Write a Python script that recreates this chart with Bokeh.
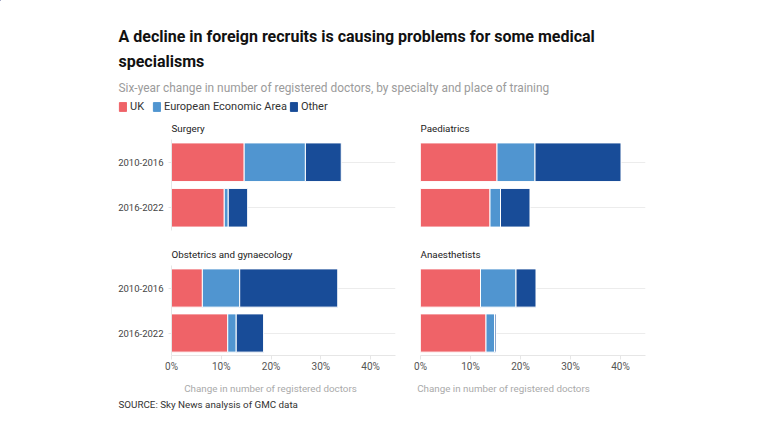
from bokeh.plotting import figure
from bokeh.models import (Range1d, FactorRange, FixedTicker, PrintfTickFormatter,
                          Label, Legend, LegendItem, ColumnDataSource)
from bokeh.layouts import column, row
from bokeh.embed import file_html
from bokeh.resources import INLINE

# ---- data ----
periods = ["2010-2016", "2016-2022"]
series = ["UK", "European Economic Area", "Other"]
colors = ["#EF6368", "#5095D0", "#184C98"]

surgery_uk = [14.6, 10.6]
surgery_eea = [12.3, 0.8]
surgery_other = [7.2, 3.9]

paed_uk = [15.3, 13.9]
paed_eea = [7.6, 2.1]
paed_other = [17.2, 5.9]

obs_uk = [6.2, 11.3]
obs_eea = [7.5, 1.7]
obs_other = [19.7, 5.5]

anaes_uk = [12.0, 13.1]
anaes_eea = [7.1, 1.7]
anaes_other = [4.0, 0.3]

x_ticks = [0, 10, 20, 30, 40]

title_line1 = "A decline in foreign recruits is causing problems for some medical"
title_line2 = "specialisms"
subtitle = "Six-year change in number of registered doctors, by specialty and place of training"
axis_title = "Change in number of registered doctors"
source_text = "SOURCE: Sky News analysis of GMC data"

FONT = "Roboto"
W = 760


def panel(name, uk, eea, other, width, height, b_left, b_right, b_top, b_bottom,
          show_y, show_x):
    src = ColumnDataSource(dict(period=periods, UK=uk, EEA=eea, Other=other))
    p = figure(width=width, height=height, output_backend="svg", toolbar_location=None,
               y_range=FactorRange(factors=periods[::-1], range_padding=0),
               x_range=Range1d(0, 45),
               min_border_left=b_left, min_border_right=b_right,
               min_border_top=b_top, min_border_bottom=b_bottom)
    p.hbar_stack(["UK", "EEA", "Other"], y="period", height=0.85, color=colors,
                 source=src, line_color="white", line_width=1)
    p.outline_line_color = None
    p.xgrid.grid_line_color = None
    p.ygrid.grid_line_color = "#ececec"
    p.ygrid.grid_line_width = 1
    p.ygrid.level = "underlay"

    p.title.text = name
    p.title.text_font = FONT
    p.title.text_font_size = "9.8px"
    p.title.text_font_style = "normal"
    p.title.text_color = "#222222"
    p.title.align = "left"
    p.title.standoff = 11

    yax = p.yaxis[0]
    yax.visible = show_y
    yax.axis_line_color = "#e6e6e6"
    yax.major_tick_line_color = "#e6e6e6"
    yax.major_tick_out = 3
    yax.major_tick_in = 0
    yax.major_label_text_font = FONT
    yax.major_label_text_font_size = "9.5px"
    yax.major_label_text_color = "#444444"
    yax.major_label_standoff = 5

    xax = p.xaxis[0]
    xax.visible = show_x
    xax.ticker = FixedTicker(ticks=x_ticks)
    xax.formatter = PrintfTickFormatter(format="%d%%")
    xax.axis_line_color = "#e6e6e6"
    xax.major_tick_line_color = "#e6e6e6"
    xax.major_tick_out = 4
    xax.major_tick_in = 0
    xax.minor_tick_line_color = None
    xax.major_label_text_font = FONT
    xax.major_label_text_font_size = "10px"
    xax.major_label_text_color = "#555555"
    xax.major_label_standoff = 1
    return p


# ---- header ----
HH = 113
header = figure(width=W, height=HH, output_backend="svg", toolbar_location=None,
                x_range=Range1d(0, W), y_range=Range1d(HH, 0),
                x_axis_location=None, y_axis_location=None,
                min_border_left=0, min_border_right=0, min_border_top=0, min_border_bottom=0)
header.outline_line_color = None
header.grid.visible = False
for txt, y in [(title_line1, 36), (title_line2, 61)]:
    header.add_layout(Label(x=118, y=y, text=txt, text_font=FONT, text_font_size="16px",
                            text_font_style="bold", text_color="#111111",
                            text_baseline="middle"))
header.add_layout(Label(x=118, y=87, text=subtitle, text_font=FONT, text_font_size="11.9px",
                        text_color="#9b9b9b", text_baseline="middle"))
items = []
for s, c in zip(series, colors):
    r = header.vbar(x=[-1000], top=[0], width=1, fill_color=c, line_color=c)
    items.append(LegendItem(label=s, renderers=[r]))
legend = Legend(items=items, location=(118, 0), orientation="horizontal",
                glyph_width=9, glyph_height=11, label_standoff=3, spacing=2,
                padding=0, margin=0, border_line_color=None, background_fill_alpha=0,
                label_text_font=FONT, label_text_font_size="11px", label_text_color="#333333",
                label_height=12)
header.add_layout(legend)

# ---- panels ----
tl = panel("Surgery", surgery_uk, surgery_eea, surgery_other,
           408, 126, 171, 13, 26, 9, True, False)
tr = panel("Paediatrics", paed_uk, paed_eea, paed_other,
           352, 126, 12, 115, 26, 9, False, False)
bl = panel("Obstetrics and gynaecology", obs_uk, obs_eea, obs_other,
           408, 137, 171, 13, 26, 21, True, True)
br = panel("Anaesthetists", anaes_uk, anaes_eea, anaes_other,
           352, 137, 12, 115, 26, 21, False, True)

# ---- footer ----
FH = 40
footer = figure(width=W, height=FH, output_backend="svg", toolbar_location=None,
                x_range=Range1d(0, W), y_range=Range1d(FH, 0),
                x_axis_location=None, y_axis_location=None,
                min_border_left=0, min_border_right=0, min_border_top=0, min_border_bottom=0)
footer.outline_line_color = None
footer.grid.visible = False
for cx in [270, 503]:
    footer.add_layout(Label(x=cx, y=12, text=axis_title, text_font=FONT, text_font_size="9.8px",
                            text_color="#aaaaaa", text_align="center", text_baseline="middle"))
footer.add_layout(Label(x=118, y=28, text=source_text, text_font=FONT, text_font_size="9.8px",
                        text_color="#333333", text_baseline="middle"))

layout = column(header, row(tl, tr), row(bl, br), footer)

open("out.html", "w").write(file_html(layout, INLINE))
